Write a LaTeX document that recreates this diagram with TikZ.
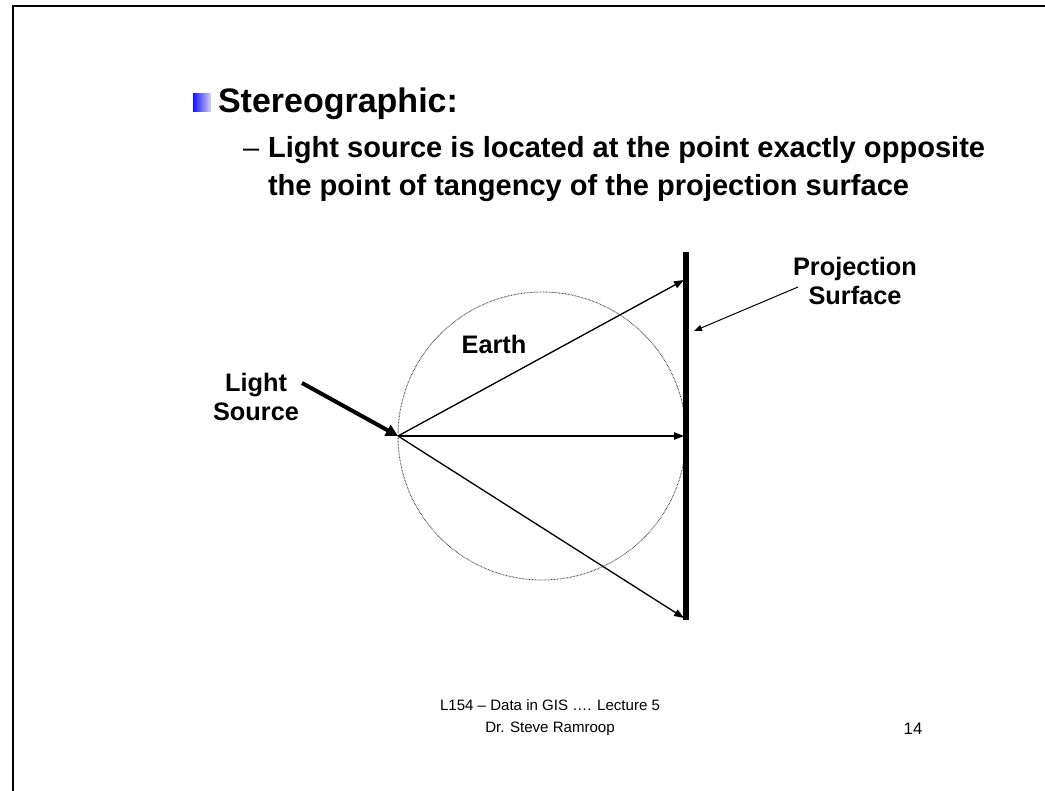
\documentclass[tikz,border=0pt]{standalone}
\usepackage{fontspec}
\setmainfont{Liberation Sans}
\usetikzlibrary{arrows.meta}
\begin{document}
\begin{tikzpicture}[x=0.75pt,y=-0.75pt,
  titlefont/.style={font=\bfseries\fontsize{25.5}{30}\selectfont},
  bodyfont/.style={font=\bfseries\fontsize{21.8}{26}\selectfont},
  labelfont/.style={font=\bfseries\fontsize{19}{22}\selectfont, align=center},
  footfont/.style={font=\fontsize{11.3}{16.5}\selectfont, align=center},
  ray/.style={line width=1pt, -{Triangle[length=7.5pt,width=5.5pt]}},
  thinarrow/.style={line width=0.75pt, -{Triangle[length=6pt,width=4.5pt]}},
  boldarrow/.style={line width=3pt, -{Triangle[length=9pt,width=9pt]}},
  txt/.style={inner sep=0pt, outer sep=0pt}]
\useasboundingbox (0,0) rectangle (1045,791);
\fill[white] (0,0) rectangle (1045,791);
% frame
\draw[line width=1.6pt] (13,791) -- (13,6) -- (1045,6);
% bullet
\shade[left color={rgb,255:red,20;green,20;blue,255}, right color={rgb,255:red,210;green,210;blue,255}] (193,94) rectangle (211,112);
\node[txt, titlefont, anchor=base west] (title) at (218,113) {Stereographic:};
\node[txt, font=\fontsize{21.8}{26}\selectfont, anchor=base west] (dash) at (243,158) {–};
\node[txt, bodyfont, anchor=base west] (line1) at (268,158) {Light source is located at the point exactly opposite};
\node[txt, bodyfont, anchor=base west] (line2) at (268,196) {the point of tangency of the projection surface};
% earth
\draw[black!75, line width=0.7pt, dash pattern=on 0.5pt off 0.6pt] (542,436) circle[radius=108pt];
\node[txt, labelfont] (earth) at (494,344) {Earth};
% projection surface
\coordinate (stop) at (686,252);
\coordinate (sbot) at (686,620);
\draw[line width=4.5pt] (stop) -- (sbot);
% light source
\coordinate (L) at (398,436);
\coordinate (t1) at (684,280);
\coordinate (t2) at (684,436);
\coordinate (t3) at (684,618);
\draw[ray] (L) -- (t1);
\draw[ray] (L) -- (t2);
\draw[ray] (L) -- (t3);
% labels
\node[txt, labelfont] (ls) at (256,397) {Light\\Source};
\coordinate (lsstart) at (302,383);
\draw[boldarrow] (lsstart) -- (L);
\node[txt, labelfont] (ps) at (855,281) {Projection\\Surface};
\coordinate (psstart) at (798,287);
\coordinate (pstip) at (694,331);
\draw[thinarrow] (psstart) -- (pstip);
% footer
\node[txt, footfont] (foot) at (550,718) {L154 – Data in GIS …. Lecture 5\\Dr. Steve Ramroop};
\node[txt, font=\fontsize{12.5}{14}\selectfont] (page) at (913,729) {14};
\end{tikzpicture}
\end{document}
